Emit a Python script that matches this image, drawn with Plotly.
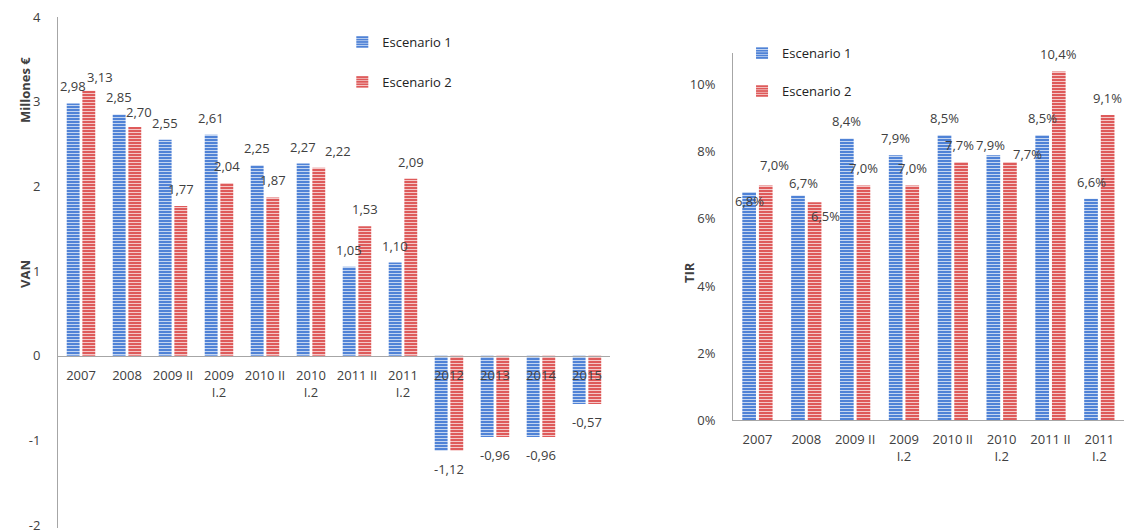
import plotly.graph_objects as go

# --- VAN (millones de euros) ---
van_categories = ["2007", "2008", "2009 II", "2009 I.2", "2010 II", "2010 I.2",
                  "2011 II", "2011 I.2", "2012", "2013", "2014", "2015"]
van_ticktext = ["2007", "2008", "2009 II", "2009<br>I.2", "2010 II", "2010<br>I.2",
                "2011 II", "2011<br>I.2", "2012", "2013", "2014", "2015"]
van_esc1 = [2.98, 2.85, 2.55, 2.61, 2.25, 2.27, 1.05, 1.10, -1.12, -0.96, -0.96, -0.57]
van_esc2 = [3.13, 2.70, 1.77, 2.04, 1.87, 2.22, 1.53, 2.09, -1.12, -0.96, -0.96, -0.57]
van_yticks = [-2, -1, 0, 1, 2, 3, 4]

# --- TIR (%) ---
tir_categories = ["2007", "2008", "2009 II", "2009 I.2", "2010 II", "2010 I.2",
                  "2011 II", "2011 I.2"]
tir_ticktext = ["2007", "2008", "2009 II", "2009<br>I.2", "2010 II", "2010<br>I.2",
                "2011 II", "2011<br>I.2"]
tir_esc1 = [6.8, 6.7, 8.4, 7.9, 8.5, 7.9, 8.5, 6.6]
tir_esc2 = [7.0, 6.5, 7.0, 7.0, 7.7, 7.7, 10.4, 9.1]
tir_yticks = [0, 2, 4, 6, 8, 10]

FONT = "Open Sans"
TXT = "#404040"
AXIS = "#a6a6a6"
BLUE = "#4f82d6"
RED = "#de5a5a"
BAR_W = 0.28
OFFSETS = (-0.31, 0.03)          # bar offsets within each category (series 1, series 2)
CENTERS = tuple(o + BAR_W / 2 for o in OFFSETS)
LABEL_GAP = 17                   # px between bar end and label centre

# Hand-placed nudges (dx, dy in px) for data labels that would collide
NUDGE = {
    ("van", 1, 0): (11, -3),
    ("van", 1, 1): (4, -2),
    ("van", 1, 5): (19, 0),
    ("tir", 0, 0): (0, -26),
    ("tir", 1, 0): (9, 3),
    ("tir", 0, 1): (6, -5),
    ("tir", 1, 1): (11, -31),
    ("tir", 1, 4): (-2, 0),
    ("tir", 0, 5): (-3, -7),
    ("tir", 1, 5): (18, -9),
}


def striped(color):
    return dict(color=color, line=dict(width=0),
                pattern=dict(shape="-", fillmode="replace", bgcolor=color,
                             fgcolor="rgba(255,255,255,0.75)", size=3, solidity=0.3))


def fmt_van(v):
    return f"{v:.2f}".replace(".", ",")


def fmt_tir(v):
    return f"{v:.1f}%".replace(".", ",")


fig = go.Figure()

for name, color, off, vals, leg, grp in [
    ("Escenario 1", BLUE, OFFSETS[0], van_esc1, "legend", "a"),
    ("Escenario 2", RED, OFFSETS[1], van_esc2, "legend", "b"),
]:
    fig.add_trace(go.Bar(x=van_categories, y=vals, name=name, marker=striped(color),
                         width=BAR_W, offset=off, xaxis="x", yaxis="y",
                         legend=leg, legendgroup=grp, hoverinfo="y"))

for name, color, off, vals, leg, grp in [
    ("Escenario 1", BLUE, OFFSETS[0], tir_esc1, "legend2", "c"),
    ("Escenario 2", RED, OFFSETS[1], tir_esc2, "legend2", "d"),
]:
    fig.add_trace(go.Bar(x=tir_categories, y=vals, name=name, marker=striped(color),
                         width=BAR_W, offset=off, xaxis="x2", yaxis="y2",
                         legend=leg, legendgroup=grp, hoverinfo="y"))

labelfont = dict(family=FONT, size=13, color=TXT)
annotations = []

# VAN labels: one per bar above positive bars, one per pair below negative bars
for s, vals in enumerate([van_esc1, van_esc2]):
    for i, v in enumerate(vals):
        if v < 0:
            continue
        dx, dy = NUDGE.get(("van", s, i), (0, 0))
        annotations.append(dict(x=i + CENTERS[s], y=v, xref="x", yref="y",
                                text=fmt_van(v), showarrow=False, font=labelfont,
                                yanchor="middle", xshift=dx, yshift=LABEL_GAP + dy))
for i, (a, b) in enumerate(zip(van_esc1, van_esc2)):
    if a < 0:
        annotations.append(dict(x=i, y=min(a, b), xref="x", yref="y",
                                text=fmt_van(a), showarrow=False, font=labelfont,
                                yanchor="middle", yshift=-LABEL_GAP - 1))

# TIR labels
for s, vals in enumerate([tir_esc1, tir_esc2]):
    for i, v in enumerate(vals):
        dx, dy = NUDGE.get(("tir", s, i), (0, 0))
        annotations.append(dict(x=i + CENTERS[s], y=v, xref="x2", yref="y2",
                                text=fmt_tir(v), showarrow=False, font=labelfont,
                                yanchor="middle", xshift=dx, yshift=LABEL_GAP + dy))

# Axis titles (pixel positions converted to paper fractions)
titlefont = dict(family=FONT, size=13, color=TXT)
for txt, px, py in [("<b>VAN</b>", 14, 274), ("<b>Millones €</b>", 14, 55),
                    ("<b>TIR</b>", 689, 273)]:
    annotations.append(dict(text=txt, x=px / 1126, y=1 - py / 530, xref="paper",
                            yref="paper", textangle=-90, showarrow=False, font=titlefont))

ydom1 = [0.0043, 0.9679]
zero_pos = ydom1[0] + (0 - (-2.03)) / 6.03 * (ydom1[1] - ydom1[0])

tickfont = dict(family=FONT, size=13, color=TXT)
legfont = dict(family=FONT, size=13, color="#222222")

fig.update_layout(
    width=1126, height=530,
    margin=dict(l=0, r=0, t=0, b=0),
    paper_bgcolor="white", plot_bgcolor="white",
    showlegend=True,
    font=dict(family=FONT, size=13, color=TXT),
    xaxis=dict(domain=[0.0515, 0.5417], type="category", categoryorder="array",
               categoryarray=van_categories, tickvals=van_categories, ticktext=van_ticktext,
               anchor="free", position=zero_pos, showline=True, linecolor=AXIS,
               linewidth=1, ticks="", tickfont=tickfont, range=[-0.5, 11.5],
               ticklabelstandoff=8, showgrid=False, automargin=False),
    yaxis=dict(domain=ydom1, range=[-2.03, 4], tickvals=van_yticks,
               ticktext=[str(t) for t in van_yticks], showline=True,
               linecolor=AXIS, linewidth=1, zeroline=False, showgrid=False,
               ticks="", tickfont=tickfont, ticklabelstandoff=14,
               ticklabeloverflow="allow", automargin=False),
    xaxis2=dict(domain=[0.651, 0.998], type="category", categoryorder="array",
                categoryarray=tir_categories, tickvals=tir_categories, ticktext=tir_ticktext,
                anchor="y2", showline=True, linecolor=AXIS, linewidth=1, ticks="",
                tickfont=tickfont, range=[-0.5, 7.5], ticklabelstandoff=7,
                showgrid=False, automargin=False),
    yaxis2=dict(domain=[0.2075, 0.9], range=[0, 10.95], tickvals=tir_yticks,
                ticktext=[f"{t}%" for t in tir_yticks], anchor="x2", showline=True,
                linecolor=AXIS, linewidth=1, zeroline=False, showgrid=False, ticks="",
                tickfont=tickfont, ticklabelstandoff=14, automargin=False),
    legend=dict(x=0.304, y=0.949, xanchor="left", yanchor="top", font=legfont,
                bgcolor="rgba(0,0,0,0)", tracegroupgap=20, itemwidth=30),
    legend2=dict(x=0.659, y=0.928, xanchor="left", yanchor="top", font=legfont,
                 bgcolor="rgba(0,0,0,0)", tracegroupgap=18, itemwidth=30),
    annotations=annotations,
)

fig.write_html("out.html")
